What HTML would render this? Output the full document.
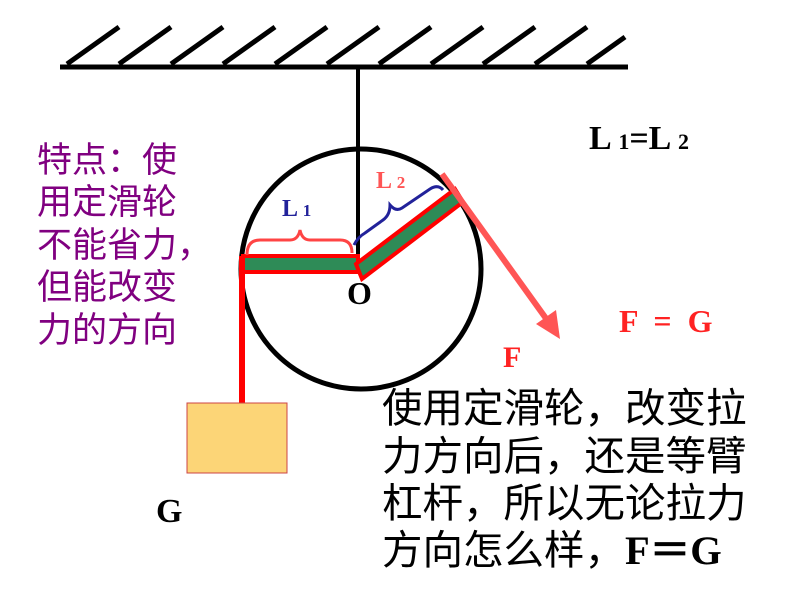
<!DOCTYPE html>
<html><head><meta charset="utf-8"><style>
html,body{margin:0;padding:0;background:#fff;}
body{width:800px;height:600px;position:relative;overflow:hidden;}
.t{position:absolute;white-space:nowrap;line-height:1;}
.p{font-family:"Liberation Sans","Noto Sans CJK SC",sans-serif;font-size:35px;color:#800080;left:37px;}
.b{font-family:"Liberation Sans","Noto Sans CJK SC",sans-serif;font-size:40.5px;color:#000;left:382px;}
.s{font-family:"Liberation Serif",serif;font-weight:bold;}
</style></head><body>
<svg width="800" height="600" style="position:absolute;left:0;top:0">
<line x1="60" y1="67" x2="628" y2="67" stroke="#000" stroke-width="5"/>
<g stroke="#000" stroke-width="5">
<line x1="67" y1="64" x2="119" y2="27"/><line x1="119" y1="64" x2="171" y2="27"/>
<line x1="171" y1="64" x2="223" y2="27"/><line x1="223" y1="64" x2="275" y2="27"/>
<line x1="275" y1="64" x2="327" y2="27"/><line x1="327" y1="64" x2="379" y2="27"/>
<line x1="379" y1="64" x2="431" y2="27"/><line x1="431" y1="64" x2="483" y2="27"/>
<line x1="483" y1="64" x2="535" y2="27"/><line x1="535" y1="64" x2="587" y2="27"/>
<line x1="587" y1="64" x2="625" y2="37"/>
</g>
<circle cx="361" cy="269" r="120" fill="none" stroke="#000" stroke-width="5"/>
<line x1="358" y1="67" x2="358" y2="273" stroke="#000" stroke-width="4"/>
<line x1="242" y1="256" x2="242" y2="405" stroke="#f00" stroke-width="6"/>
<rect x="187" y="403" width="100" height="70" fill="#fcd577" stroke="#c44" stroke-width="1"/>
<rect x="243" y="256" width="115" height="16" fill="#2e8b57" stroke="#f00" stroke-width="4"/>
<polygon points="356,264 455,189 463,202 362,279" fill="#2e8b57" stroke="#f00" stroke-width="4"/>
<path d="M247 255 Q247 240 260 240 L290 240 Q298 240 300 230 Q302 240 310 240 L340 240 Q352 240 352 253" fill="none" stroke="#f44" stroke-width="3"/>
<path d="M354 245 Q358 237 365 233 L383 220 Q390 215 390 205 Q396 212 402 208 L430 189 Q438 184 443 190" fill="none" stroke="#22229a" stroke-width="3"/>
<line x1="442" y1="174" x2="550" y2="324" stroke="#f55" stroke-width="6"/>
<polygon points="560,339 536,324 556,310" fill="#f55"/>
</svg>
<div class="t s" style="left:282px;top:197px;font-size:24px;color:#22229a">L <span style="font-size:17px">1</span></div>
<div class="t s" style="left:376px;top:169px;font-size:24px;color:#f55">L <span style="font-size:17px">2</span></div>
<div class="t s" style="left:347px;top:277px;font-size:32px;color:#000">O</div>
<div class="t s" style="left:589px;top:122px;font-size:34px;color:#000">L <span style="font-size:22px">1</span>=L <span style="font-size:22px">2</span></div>
<div class="t s" style="left:619px;top:305px;font-size:32px;color:#f22">F &nbsp;= &nbsp;G</div>
<div class="t s" style="left:503px;top:343px;font-size:30px;color:#f22">F</div>
<div class="t s" style="left:156px;top:495px;font-size:34px;color:#000">G</div>
<div class="t p" style="top:143px">特点：使</div>
<div class="t p" style="top:185px">用定滑轮</div>
<div class="t p" style="top:228px">不能省力，</div>
<div class="t p" style="top:270px">但能改变</div>
<div class="t p" style="top:313px">力的方向</div>
<div class="t b" style="top:388px">使用定滑轮，改变拉</div>
<div class="t b" style="top:436px">力方向后，还是等臂</div>
<div class="t b" style="top:483px">杠杆，所以无论拉力</div>
<div class="t b" style="top:530px">方向怎么样，<span class="s">F＝G</span></div>
</body></html>
